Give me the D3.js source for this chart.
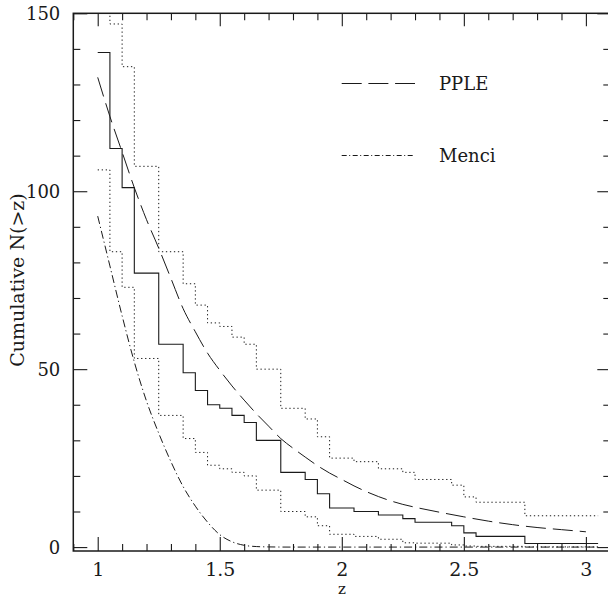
<!DOCTYPE html>
<html><head><meta charset="utf-8">
<script src="https://cdn.jsdelivr.net/npm/d3@7"></script>
<style>
html,body{margin:0;padding:0;background:#fff;}
svg{display:block;}
text{font-family:"DejaVu Serif",serif;fill:#1a1a1a;}
</style></head>
<body>
<script>
// ---- data ----
const binEdges = [1.0,1.05,1.1,1.15,1.25,1.35,1.4,1.45,1.5,1.55,1.6,1.65,1.75,1.85,1.9,1.95,2.05,2.15,2.25,2.3,2.45,2.5,2.55,2.75];
const binEnd = 3.05;
const observed = [139,112,101,77,57,49,44,40,39,37,35,30,21,19,15,11,10,9,8,7,6,4,3,1];
const upperBound = [165,147,135,107,83,74,68,63,62,59,57,50,39,36,31,25,24,22,21,19,17.4,14.1,12.6,8.8];
const lowerBound = [106,83,73,53,37,30.5,26.6,23,22,21,20,16,10,8.5,6,3.6,3,2.2,1.2,1.1,0.6,0.3,0.2,0.05];

const ppleZ = [1.0,1.05,1.1,1.15,1.2,1.25,1.3,1.35,1.4,1.45,1.5,1.55,1.6,1.65,1.7,1.75,1.8,1.85,1.9,1.95,2.0,2.05,2.1,2.15,2.2,2.25,2.3,2.4,2.5,2.6,2.7,2.8,2.9,3.0];
const ppleN = [132,121,111,101,92,84,75.5,67,60.5,54.5,49.7,45.3,41.3,37.5,34,30.5,27.8,25.3,22.9,20.8,19,17.2,15.6,14.2,13,12,11.2,9.8,8.5,7.3,6.3,5.5,4.9,4.3];

const menciZ = [1.0,1.05,1.1,1.15,1.2,1.25,1.3,1.35,1.4,1.45,1.5,1.55,1.6,1.65,1.7,1.8,2.0,2.5,3.05];
const menciN = [93,79,65,52,41,32,24,17,11.5,7,3.5,1.5,0.5,0.15,0.05,0,0,0,0];

const xMajor = [1,1.5,2,2.5,3];
const xMajorLabels = ["1","1.5","2","2.5","3"];
const yMajor = [0,50,100,150];
const yMajorLabels = ["0","50","100","150"];
const legendNames = ["PPLE","Menci"];

// ---- layout ----
const W = 608, H = 599;
const L = 73.3, R = 610.3, T = 13.3, B = 551;
const x = d3.scaleLinear().domain([0.9,3.1]).range([L,R]);
const y = d3.scaleLinear().domain([-1.1,150]).range([B,T]);

const svg = d3.select("body").append("svg").attr("width",W).attr("height",H);
svg.append("defs").append("clipPath").attr("id","clip")
  .append("rect").attr("x",L).attr("y",T).attr("width",R-L).attr("height",B-T);

const ink = "#1a1a1a";
const xMinor = d3.range(9,32).map(v=>v/10).filter(v=>!xMajor.some(m=>Math.abs(m-v)<1e-6));
const yMinor = d3.range(0,151,10).filter(v=>v%50!==0);

function axisG(axis, tx, ty){
  const g = svg.append("g").attr("transform",`translate(${tx},${ty})`).call(axis);
  g.select(".domain").remove();
  g.selectAll(".tick line").attr("stroke",ink).attr("stroke-width",1.1);
  return g;
}
// bottom
const gb = axisG(d3.axisBottom(x).tickValues(xMajor).tickSize(-14).tickFormat((d,i)=>xMajorLabels[i]), 0, B);
gb.selectAll("text").attr("dy",0).attr("y",25).style("font-size","19px").style("font-family","DejaVu Serif, serif");
axisG(d3.axisBottom(x).tickValues(xMinor).tickSize(-7).tickFormat(""), 0, B);
// top
axisG(d3.axisTop(x).tickValues(xMajor).tickSize(-13).tickFormat(""), 0, T);
axisG(d3.axisTop(x).tickValues(xMinor).tickSize(-7).tickFormat(""), 0, T);
// left
const gl = axisG(d3.axisLeft(y).tickValues(yMajor).tickSize(-14).tickFormat((d,i)=>yMajorLabels[i]), L, 0);
gl.selectAll("text").attr("x",-13).attr("dy","0.36em").style("font-size","18px").style("font-family","DejaVu Serif, serif");
axisG(d3.axisLeft(y).tickValues(yMinor).tickSize(-7).tickFormat(""), L, 0);
// right
axisG(d3.axisRight(y).tickValues(yMajor).tickSize(-13).tickFormat(""), R, 0);
axisG(d3.axisRight(y).tickValues(yMinor).tickSize(-7).tickFormat(""), R, 0);

// frame
svg.append("rect").attr("x",L).attr("y",T).attr("width",R-L).attr("height",B-T)
  .attr("fill","none").attr("stroke",ink).attr("stroke-width",1.5);

// step helper
function stepPts(vals){
  const pts = binEdges.map((e,i)=>[e, vals[i]]);
  pts.push([binEnd, vals[vals.length-1]]);
  return pts;
}
const stepLine = d3.line().x(d=>x(d[0])).y(d=>y(d[1])).curve(d3.curveStepAfter);
const smooth = d3.line().x(d=>x(d[0])).y(d=>y(d[1])).curve(d3.curveMonotoneX);

const plot = svg.append("g").attr("clip-path","url(#clip)");
plot.append("path").attr("d",stepLine(stepPts(upperBound))).attr("fill","none")
  .attr("stroke",ink).attr("stroke-width",1).attr("stroke-dasharray","1.3,2.7");
plot.append("path").attr("d",stepLine(stepPts(lowerBound))).attr("fill","none")
  .attr("stroke",ink).attr("stroke-width",1).attr("stroke-dasharray","1.3,2.7");
plot.append("path").attr("d",stepLine(stepPts(observed))).attr("fill","none")
  .attr("stroke",ink).attr("stroke-width",1.1);
plot.append("path").attr("d",smooth(ppleZ.map((z,i)=>[z,ppleN[i]]))).attr("fill","none")
  .attr("stroke",ink).attr("stroke-width",1).attr("stroke-dasharray","20,7");
plot.append("path").attr("d",smooth(menciZ.map((z,i)=>[z,menciN[i]]))).attr("fill","none")
  .attr("stroke",ink).attr("stroke-width",1).attr("stroke-dasharray","8,3,1.2,3");

// legend
const leg = [{name:legendNames[0], dash:"20,6.7", yy:83.5},{name:legendNames[1], dash:"5,2.5,1,2.5", yy:155.5}];
leg.forEach(l=>{
  svg.append("line").attr("x1",341.7).attr("x2",415).attr("y1",l.yy).attr("y2",l.yy)
    .attr("stroke",ink).attr("stroke-width",1).attr("stroke-dasharray",l.dash);
  svg.append("text").attr("x",439).attr("y",l.yy+6).style("font-size","18px").text(l.name);
});

// axis titles
svg.append("text").attr("x",342).attr("y",594).attr("text-anchor","middle").style("font-size","15px").text("z");
svg.append("text").attr("transform","translate(24,280) rotate(-90)").attr("text-anchor","middle")
  .style("font-size","19px").text("Cumulative N(>z)");
</script>
</body></html>
